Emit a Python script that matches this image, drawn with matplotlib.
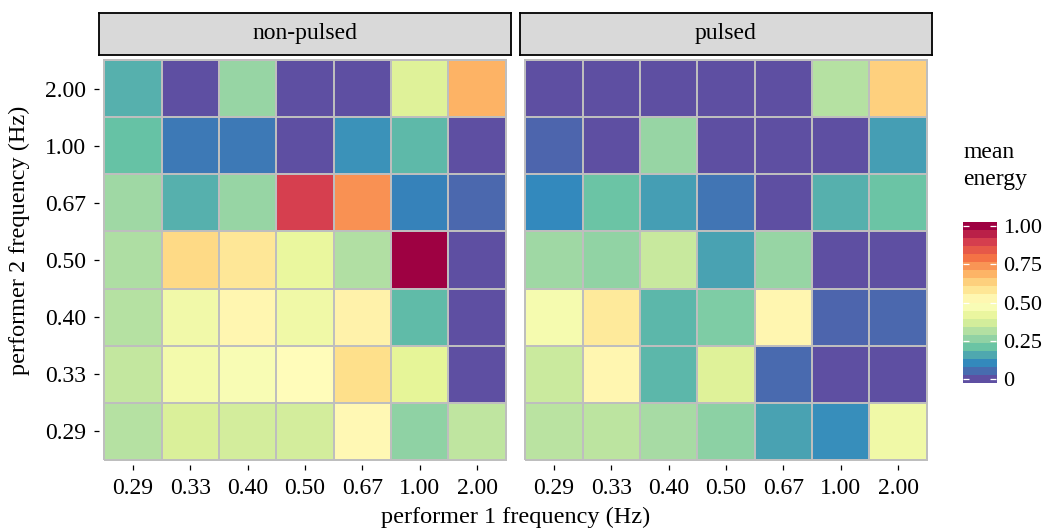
import numpy as np
import matplotlib
matplotlib.use("Agg")
import matplotlib.pyplot as plt

plt.rcParams['font.family'] = ['Liberation Serif', 'DejaVu Serif']

freqs = ["0.29", "0.33", "0.40", "0.50", "0.67", "1.00", "2.00"]
panels = ["non-pulsed", "pulsed"]

# mean energy, rows = performer 2 frequency (2.00 at top down to 0.29),
# columns = performer 1 frequency (0.29 ... 2.00)
non_pulsed = [
    [0.17, 0.00, 0.27, 0.00, 0.00, 0.39, 0.69],
    [0.20, 0.075, 0.075, 0.00, 0.12, 0.185, 0.00],
    [0.285, 0.17, 0.27, 0.895, 0.745, 0.09, 0.045],
    [0.305, 0.61, 0.575, 0.415, 0.31, 1.00, 0.00],
    [0.32, 0.445, 0.53, 0.44, 0.54, 0.19, 0.00],
    [0.34, 0.45, 0.47, 0.51, 0.60, 0.40, 0.00],
    [0.32, 0.38, 0.37, 0.37, 0.52, 0.26, 0.335],
]
pulsed = [
    [0.00, 0.00, 0.00, 0.00, 0.00, 0.32, 0.63],
    [0.04, 0.00, 0.27, 0.00, 0.00, 0.00, 0.14],
    [0.105, 0.21, 0.14, 0.07, 0.00, 0.17, 0.21],
    [0.285, 0.265, 0.35, 0.145, 0.27, 0.00, 0.00],
    [0.46, 0.57, 0.18, 0.235, 0.53, 0.04, 0.045],
    [0.355, 0.53, 0.18, 0.39, 0.05, 0.00, 0.00],
    [0.325, 0.33, 0.295, 0.255, 0.145, 0.11, 0.44],
]

cmap = plt.get_cmap("Spectral_r")
W, H = 1047, 528
fig = plt.figure(figsize=(W / 100, H / 100), dpi=100)

def box(x0, y0, x1, y1):
    return [x0 / W, 1 - y1 / H, (x1 - x0) / W, (y1 - y0) / H]

fs_tick = 17
fs_title = 17.5
m = 0.09
lefts = [(99, 511), (520, 932)]
for k, (name, vals) in enumerate(zip(panels, [non_pulsed, pulsed])):
    x0, x1 = lefts[k]
    ax = fig.add_axes(box(x0, 55, x1, 465))
    z = np.array(vals)[::-1]
    edges = np.arange(len(freqs) + 1) - 0.5
    ax.pcolormesh(edges, edges, z, cmap=cmap, vmin=0, vmax=1,
                  edgecolors="#BEBEBE", linewidth=1.2)
    ax.set_xlim(-0.5 - m, len(freqs) - 0.5 + m)
    ax.set_ylim(-0.5 - m, len(freqs) - 0.5 + m)
    for s in ax.spines.values():
        s.set_visible(False)
    ax.set_xticks(range(len(freqs)))
    ax.set_xticklabels(freqs)
    ax.set_yticks(range(len(freqs)))
    if k == 0:
        ax.set_yticklabels(freqs)
        ax.tick_params(axis="y", length=3.5, width=0.9, pad=6, labelsize=fs_tick)
    else:
        ax.tick_params(axis="y", left=False, labelleft=False)
    ax.tick_params(axis="x", length=3.5, width=0.9, pad=6, labelsize=fs_tick)

    # facet strip
    sx = fig.add_axes(box(x0, 13, x1, 55))
    sx.set_facecolor("#D9D9D9")
    sx.set_xticks([])
    sx.set_yticks([])
    for s in sx.spines.values():
        s.set_linewidth(1.3)
        s.set_color("black")
    sx.text(0.5, 0.5, name, ha="center", va="center", fontsize=fs_tick,
            transform=sx.transAxes)

fig.text(515.5 / W, 1 - 523 / H, "performer 1 frequency (Hz)", ha="center",
         va="baseline", fontsize=fs_title)
fig.text(19 / W, 1 - 240 / H, "performer 2 frequency (Hz)", ha="center",
         va="center", rotation=90, fontsize=fs_title)

# legend: binned colour bar
nbin = 20
cax = fig.add_axes(box(963, 222, 996, 383))
half = 0.5 / (nbin - 1)
cax.imshow(np.linspace(0, 1, nbin).reshape(-1, 1), cmap=cmap, vmin=0, vmax=1,
           origin="lower", aspect="auto", extent=[0, 1, -half, 1 + half],
           interpolation="nearest")
cax.set_xlim(0, 1)
cax.set_ylim(-half, 1 + half)
cax.set_xticks([])
cax.set_yticks([0, 0.25, 0.5, 0.75, 1.0])
cax.set_yticklabels(["0", "0.25", "0.50", "0.75", "1.00"])
cax.tick_params(axis="y", direction="in", colors="white", length=4.5,
                width=0.9, left=True, right=True, labelleft=False,
                labelright=True, labelcolor="black", labelsize=16, pad=5)
for s in cax.spines.values():
    s.set_visible(False)
fig.text(963 / W, 1 - 158 / H, "mean", ha="left", va="baseline", fontsize=fs_tick)
fig.text(963 / W, 1 - 185 / H, "energy", ha="left", va="baseline", fontsize=fs_tick)

fig.savefig("out.png", dpi=100)
